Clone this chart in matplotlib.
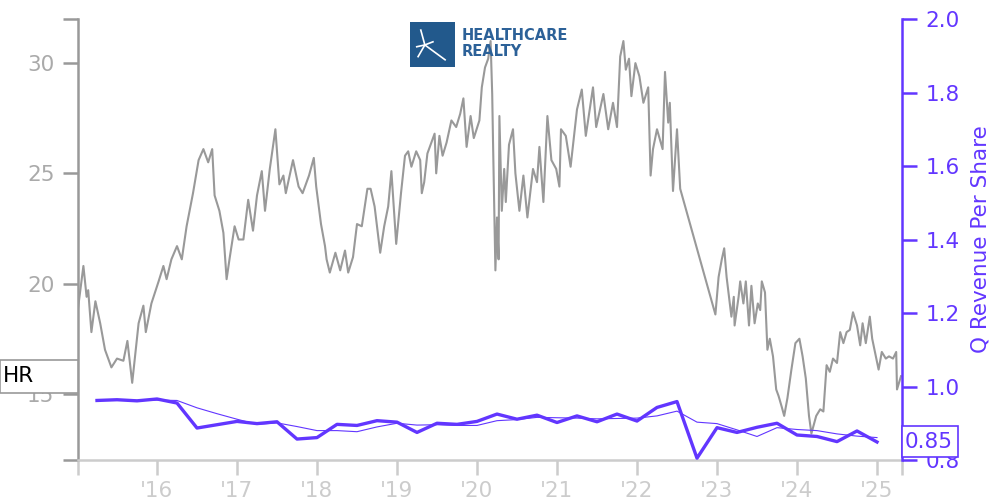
import matplotlib
matplotlib.use('Agg')
import matplotlib.pyplot as plt
from matplotlib.patches import Rectangle
from matplotlib.lines import Line2D
import matplotlib.transforms as mtransforms

# ---------------- data ----------------
price_years = [2015.01, 2015.08, 2015.12, 2015.14, 2015.18, 2015.23, 2015.29, 2015.35, 2015.43, 2015.50,
               2015.58, 2015.63, 2015.69, 2015.77, 2015.83, 2015.86, 2015.93, 2016.02, 2016.08, 2016.12,
               2016.18, 2016.25, 2016.31, 2016.37, 2016.45, 2016.52, 2016.58, 2016.64, 2016.69, 2016.72,
               2016.78, 2016.83, 2016.87, 2016.91, 2016.97, 2017.02, 2017.08, 2017.14, 2017.20, 2017.25,
               2017.31, 2017.35, 2017.41, 2017.48, 2017.53, 2017.58, 2017.61, 2017.70, 2017.77, 2017.82,
               2017.90, 2017.96, 2017.99, 2018.05, 2018.10, 2018.12, 2018.16, 2018.23, 2018.29, 2018.35,
               2018.39, 2018.45, 2018.50, 2018.56, 2018.63, 2018.67, 2018.72, 2018.79, 2018.84, 2018.89,
               2018.93, 2018.99, 2019.05, 2019.10, 2019.14, 2019.18, 2019.24, 2019.29, 2019.31, 2019.34,
               2019.38, 2019.43, 2019.47, 2019.49, 2019.53, 2019.57, 2019.62, 2019.68, 2019.74, 2019.79,
               2019.83, 2019.87, 2019.92, 2019.96, 2020.03, 2020.06, 2020.10, 2020.14, 2020.17, 2020.19,
               2020.20, 2020.23, 2020.25, 2020.27, 2020.28, 2020.31, 2020.34, 2020.36, 2020.40, 2020.45,
               2020.48, 2020.53, 2020.58, 2020.63, 2020.70, 2020.75, 2020.78, 2020.83, 2020.88, 2020.93,
               2020.99, 2021.03, 2021.05, 2021.11, 2021.17, 2021.25, 2021.31, 2021.36, 2021.45, 2021.49,
               2021.58, 2021.64, 2021.70, 2021.75, 2021.79, 2021.83, 2021.86, 2021.90, 2021.93, 2021.98,
               2022.03, 2022.08, 2022.14, 2022.17, 2022.20, 2022.25, 2022.32, 2022.35, 2022.39, 2022.41,
               2022.45, 2022.50, 2022.54, 2022.98, 2023.02, 2023.06, 2023.09, 2023.12, 2023.15, 2023.18,
               2023.21, 2023.22, 2023.27, 2023.29, 2023.33, 2023.36, 2023.40, 2023.43, 2023.47, 2023.51,
               2023.54, 2023.56, 2023.60, 2023.63, 2023.66, 2023.70, 2023.74, 2023.77, 2023.81, 2023.84,
               2023.88, 2023.93, 2023.98, 2024.03, 2024.07, 2024.11, 2024.15, 2024.18, 2024.24, 2024.29,
               2024.33, 2024.37, 2024.41, 2024.45, 2024.50, 2024.54, 2024.58, 2024.62, 2024.66, 2024.70,
               2024.75, 2024.79, 2024.82, 2024.86, 2024.91, 2024.94, 2024.98, 2025.02, 2025.06, 2025.11,
               2025.15, 2025.20, 2025.24, 2025.25, 2025.30]
price_values = [18.8, 20.8, 19.4, 19.7, 17.8, 19.2, 18.2, 17.0, 16.2, 16.6,
                16.5, 17.4, 15.5, 18.2, 19.0, 17.8, 19.1, 20.1, 20.8, 20.2,
                21.1, 21.7, 21.1, 22.6, 24.1, 25.6, 26.1, 25.5, 26.1, 24.0,
                23.3, 22.3, 20.2, 21.2, 22.6, 22.0, 22.0, 23.8, 22.4, 24.0,
                25.1, 23.3, 25.2, 27.0, 24.5, 24.9, 24.1, 25.6, 24.4, 24.1,
                24.9, 25.7, 24.4, 22.7, 21.7, 21.1, 20.5, 21.4, 20.6, 21.5,
                20.5, 21.2, 22.7, 22.6, 24.3, 24.3, 23.5, 21.4, 22.6, 23.5,
                25.1, 21.8, 24.1, 25.8, 26.0, 25.3, 26.0, 25.6, 24.1, 24.6,
                25.9, 26.4, 26.8, 25.0, 26.7, 25.8, 26.4, 27.4, 27.1, 27.7,
                28.4, 26.2, 27.6, 26.6, 27.4, 28.9, 29.8, 30.2, 31.0, 28.6,
                26.5, 20.6, 23.0, 21.1, 27.6, 23.3, 25.2, 23.7, 26.3, 27.0,
                25.0, 23.3, 24.9, 23.0, 25.2, 24.6, 26.2, 23.7, 27.6, 25.6,
                25.2, 24.4, 27.0, 26.7, 25.3, 27.9, 28.8, 26.7, 28.9, 27.1,
                28.6, 27.0, 28.2, 27.1, 30.3, 31.0, 29.7, 30.2, 28.5, 30.0,
                29.4, 28.2, 28.9, 24.9, 26.1, 27.0, 26.1, 29.6, 27.3, 28.2,
                24.2, 27.0, 24.3, 18.6, 20.3, 21.1, 21.6, 20.3, 19.4, 18.5,
                19.4, 18.1, 19.4, 20.1, 19.1, 20.1, 18.1, 19.9, 18.2, 19.1,
                18.8, 20.1, 19.6, 17.0, 17.5, 16.7, 15.2, 14.9, 14.4, 14.0,
                14.8, 16.1, 17.3, 17.5, 16.7, 15.7, 14.0, 13.2, 14.0, 14.3,
                14.2, 16.3, 16.0, 16.6, 16.4, 17.8, 17.3, 17.8, 17.9, 18.7,
                18.1, 17.2, 18.2, 17.3, 18.5, 17.5, 16.8, 16.1, 16.9, 16.6,
                16.7, 16.6, 16.9, 15.2, 15.8]

quarter_years = [2015.25, 2015.50, 2015.75, 2016.00, 2016.25, 2016.50, 2016.75, 2017.00,
                 2017.25, 2017.50, 2017.75, 2018.00, 2018.25, 2018.50, 2018.75, 2019.00,
                 2019.25, 2019.50, 2019.75, 2020.00, 2020.25, 2020.50, 2020.75, 2021.00,
                 2021.25, 2021.50, 2021.75, 2022.00, 2022.25, 2022.50, 2022.75, 2023.00,
                 2023.25, 2023.50, 2023.75, 2024.00, 2024.25, 2024.50, 2024.75, 2025.00]
q_revenue = [0.962, 0.964, 0.961, 0.966, 0.955, 0.887, 0.896, 0.905,
             0.899, 0.904, 0.857, 0.861, 0.897, 0.894, 0.907, 0.903,
             0.875, 0.900, 0.897, 0.905, 0.925, 0.911, 0.922, 0.902,
             0.920, 0.904, 0.925, 0.906, 0.943, 0.959, 0.805, 0.888,
             0.875, 0.889, 0.900, 0.868, 0.864, 0.850, 0.879, 0.849]
ttm_revenue = [0.962, 0.963, 0.962, 0.963, 0.962, 0.942, 0.926, 0.911,
               0.897, 0.901, 0.891, 0.880, 0.880, 0.877, 0.890, 0.900,
               0.895, 0.896, 0.894, 0.894, 0.907, 0.910, 0.916, 0.915,
               0.914, 0.912, 0.913, 0.914, 0.920, 0.933, 0.903, 0.899,
               0.882, 0.864, 0.888, 0.883, 0.880, 0.871, 0.865, 0.861]

year_ticks = [2016, 2017, 2018, 2019, 2020, 2021, 2022, 2023, 2024, 2025]
year_labels = ["'16", "'17", "'18", "'19", "'20", "'21", "'22", "'23", "'24", "'25"]
left_ticks = [15, 20, 25, 30]
right_ticks = [0.8, 1.0, 1.2, 1.4, 1.6, 1.8, 2.0]

ticker = "HR"
right_label = "Q Revenue Per Share"

# ---------------- style ----------------
GRAY = '#999999'
LGRAY = '#cccccc'
PURPLE = '#6236ff'
FS = 15.5

fig = plt.figure(figsize=(10, 5), dpi=100)
ax = fig.add_axes([0.078, 0.08, 0.824, 0.882])
ax2 = ax.twinx()

ax.plot(price_years, price_values, color=GRAY, lw=1.5, zorder=2)
ax.set_xlim(2015.0125, 2025.3125)
ax.set_ylim(12, 32)

ax2.plot(quarter_years, ttm_revenue, color=PURPLE, lw=0.8)
ax2.plot(quarter_years, q_revenue, color=PURPLE, lw=2.4)
ax2.set_ylim(0.8, 2.0)

for s in ['top', 'right']:
    ax.spines[s].set_visible(False)
for s in ['top', 'left', 'bottom']:
    ax2.spines[s].set_visible(False)
ax.spines['left'].set_color(GRAY)
ax.spines['left'].set_linewidth(1.8)
ax.spines['bottom'].set_color(LGRAY)
ax.spines['bottom'].set_linewidth(1.8)
ax2.spines['right'].set_color(PURPLE)
ax2.spines['right'].set_linewidth(1.8)

ax.set_xticks(year_ticks)
ax.set_xticklabels(year_labels)
ax.set_xticks([2015.0125, 2025.3125], minor=True)
ax.tick_params(axis='x', which='both', colors=LGRAY, labelsize=FS, length=11, width=1.8, pad=4)

ax.set_yticks(left_ticks)
ax.set_yticks([12, 32], minor=True)
ax.tick_params(axis='y', which='both', colors=GRAY, labelsize=FS, length=11, width=1.8, pad=6)
ax.tick_params(axis='y', labelcolor='#aaaaaa')

ax2.set_yticks(right_ticks)
ax2.set_yticklabels([f"{v:.1f}" for v in right_ticks])
ax2.tick_params(axis='y', colors=PURPLE, labelsize=FS, length=11, width=1.8, pad=6)
ax2.set_ylabel(right_label, color=PURPLE, fontsize=FS, labelpad=8)

# ---- last-value labels ----
trans_l = mtransforms.blended_transform_factory(ax.transAxes, ax.transData)
last_p = price_values[-1]
box_h = 33 / 22.05
rect = Rectangle((-78 / 824, last_p - box_h / 2), 78 / 824, box_h, transform=trans_l,
                 facecolor='white', edgecolor=GRAY, lw=1.2, clip_on=False, zorder=5)
ax.add_patch(rect)
ax.text(-75 / 824, last_p, ticker, transform=trans_l, ha='left', va='center',
        fontsize=FS, color='black', zorder=6, clip_on=False)

trans_r = mtransforms.blended_transform_factory(ax2.transAxes, ax2.transData)
last_r = q_revenue[-1]
box_hr = 31 / 367.5
rect2 = Rectangle((1.0, last_r - box_hr / 2), 56 / 824, box_hr, transform=trans_r,
                  facecolor='white', edgecolor=PURPLE, lw=1.2, clip_on=False, zorder=5)
ax2.add_patch(rect2)
ax2.text(1.0 + 3 / 824, last_r, f"{last_r:.2f}", transform=trans_r, ha='left', va='center',
         fontsize=FS, color=PURPLE, zorder=6, clip_on=False)

# ---- logo ----
BLUE = '#22598c'
lax = fig.add_axes([410 / 1000, 1 - 67 / 500, 45 / 1000, 45 / 500])
lax.set_facecolor(BLUE)
lax.set_xlim(0, 1)
lax.set_ylim(0, 1)
lax.set_xticks([])
lax.set_yticks([])
for s in lax.spines.values():
    s.set_visible(False)
cx, cy = 0.33, 0.49
for ex, ey in [(0.24, 0.82), (0.18, 0.23), (0.78, 0.16), (0.51, 0.56), (0.15, 0.45)]:
    lax.add_line(Line2D([cx, ex], [cy, ey], color='white', lw=1.2))
fig.text(462 / 1000, 1 - 36 / 500, "HEALTHCARE", color='#2c6198', fontsize=10.5,
         fontweight='semibold', va='center', ha='left')
fig.text(462 / 1000, 1 - 51 / 500, "REALTY", color='#2c6198', fontsize=10.5,
         fontweight='semibold', va='center', ha='left')

fig.savefig('out.png', dpi=100)
